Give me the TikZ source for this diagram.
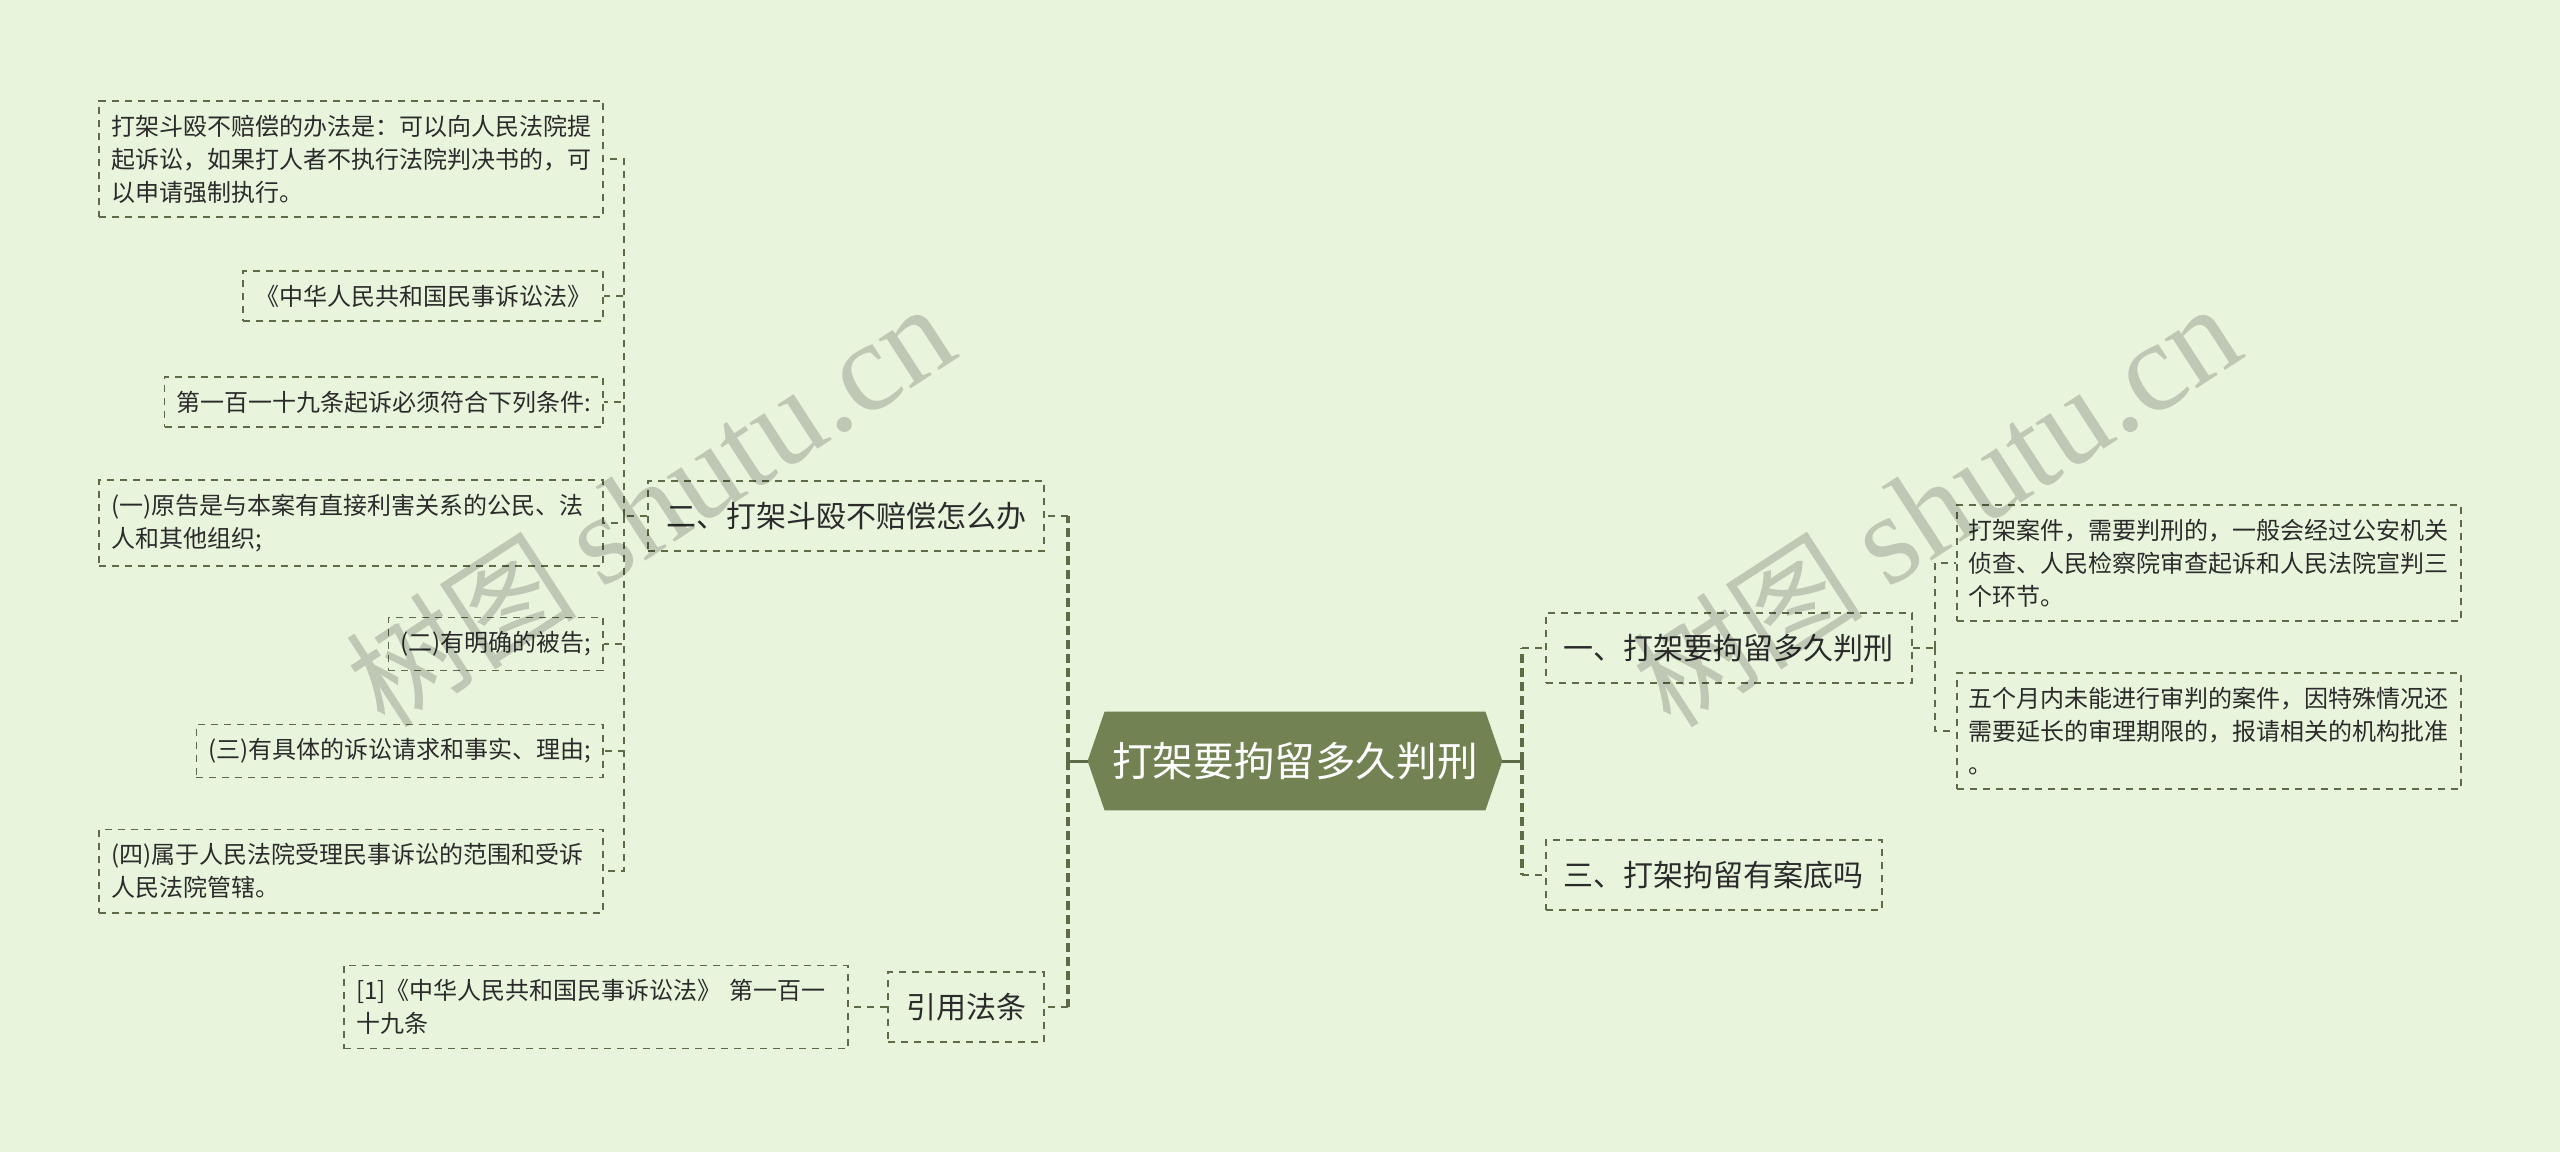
\documentclass[tikz,border=0pt]{standalone}
\usepackage{fontspec}
\setmainfont{Noto Sans CJK SC}
\newfontfamily\wmlatin{Liberation Serif}
\usepackage{tikz}
\usetikzlibrary{backgrounds}
\definecolor{bgcol}{HTML}{E8F5DC}
\definecolor{linecol}{HTML}{5E6B47}
\definecolor{rootcol}{HTML}{738252}
\definecolor{txtcol}{HTML}{2B2B2B}
\tikzset{
  rootbox/.style={text=white, font=\fontsize{20.3}{24}\selectfont,
    minimum width=190pt, minimum height=49pt, inner sep=0pt},
  branch/.style={draw=linecol, line width=0.8pt, dash pattern=on 3.5pt off 3pt,
    text=txtcol, font=\fontsize{15}{18}\selectfont, inner xsep=9pt, inner ysep=8pt,
    minimum height=35pt},
  leaf/.style={draw=linecol, line width=0.8pt, dash pattern=on 3.5pt off 3pt,
    text=txtcol, font=\fontsize{12}{16.5}\selectfont, inner xsep=6pt, inner ysep=7pt,
    align=left},
  leafwide/.style={leaf, text width=240pt},
  link/.style={draw=linecol, line width=0.8pt, dash pattern=on 3.5pt off 3pt},
  trunk/.style={draw=linecol, line width=2pt, dash pattern=on 4.5pt off 2.5pt},
  stem/.style={draw=linecol, line width=1.5pt},
  wmark/.style={text=black, text opacity=0.18, font=\fontsize{58}{60}\selectfont,
    inner sep=0pt}
}

\begin{document}
\begin{tikzpicture}[x=0.5pt, y=-0.5pt]
  % background ---------------------------------------------------
  \begin{scope}[on background layer]
    \fill[bgcol] (0,0) rectangle (2560,1152);
  \end{scope}
  % root ---------------------------------------------------------
  \node[rootbox] (root) at (1295,761) {打架要拘留多久判刑};
  \coordinate (rw) at ([xshift=-8.5pt]root.west);
  \coordinate (re) at ([xshift=8.5pt]root.east);
  \begin{scope}[on background layer]
    \fill[rootcol] (root.north west) -- (root.north east) -- (re)
      -- (root.south east) -- (root.south west) -- (rw) -- cycle;
  \end{scope}
  % main branches ------------------------------------------------
  \node[branch, anchor=east] (br2) at (1045,516) {二、打架斗殴不赔偿怎么办};
  \node[branch, anchor=east] (cite) at (1045,1007) {引用法条};
  \node[branch, anchor=west] (br1) at (1545,648) {一、打架要拘留多久判刑};
  \node[branch, anchor=west] (br3) at (1545,875) {三、打架拘留有案底吗};
  % leaves of branch two -----------------------------------------
  \node[leafwide, anchor=east] (c1) at (604,159) {打架斗殴不赔偿的办法是：可以向人民法院提\\起诉讼，如果打人者不执行法院判决书的，可\\以申请强制执行。};
  \node[leaf, anchor=east] (c2) at (604,296) {《中华人民共和国民事诉讼法》};
  \node[leaf, anchor=east] (c3) at (604,402) {第一百一十九条起诉必须符合下列条件:};
  \node[leafwide, anchor=east] (c4) at (604,523) {(一)原告是与本案有直接利害关系的公民、法\\人和其他组织;};
  \node[leaf, anchor=east] (c5) at (604,644) {(二)有明确的被告;};
  \node[leaf, anchor=east] (c6) at (604,751) {(三)有具体的诉讼请求和事实、理由;};
  \node[leafwide, anchor=east] (c7) at (604,871) {(四)属于人民法院受理民事诉讼的范围和受诉\\人民法院管辖。};
  % leaf of the citation -----------------------------------------
  \node[leafwide, anchor=east] (law) at (849,1007) {[1]《中华人民共和国民事诉讼法》 第一百一\\十九条};
  % leaves of branch one -----------------------------------------
  \node[leafwide, anchor=west] (r1) at (1956,563) {打架案件，需要判刑的，一般会经过公安机关\\侦查、人民检察院审查起诉和人民法院宣判三\\个环节。};
  \node[leafwide, anchor=west] (r2) at (1956,731) {五个月内未能进行审判的案件，因特殊情况还\\需要延长的审理期限的，报请相关的机构批准\\。};
  % connectors ---------------------------------------------------
  \coordinate (lj) at (1068,761);
  \coordinate (rj) at (1522,761);
  \coordinate (bj) at (624,516);
  \coordinate (oj) at (1935,648);
  \draw[stem] (rw) -- (lj);
  \draw[stem] (re) -- (rj);
  \draw[trunk] (lj) -- (lj |- br2.east);
  \draw[trunk] (lj) -- (lj |- cite.east);
  \draw[trunk] (rj) -- (rj |- br1.west);
  \draw[trunk] (rj) -- (rj |- br3.west);
  \draw[link] (lj |- br2.east) -- (br2.east);
  \draw[link] (lj |- cite.east) -- (cite.east);
  \draw[link] (rj |- br1.west) -- (br1.west);
  \draw[link] (rj |- br3.west) -- (br3.west);
  \draw[link] (br2.west) -- (bj);
  \foreach \c in {c1,c2,c3,c4,c5,c6,c7}
    \draw[link] (bj) |- (\c.east);
  \draw[link] (cite.west) -- (law.east);
  \draw[link] (br1.east) -- (oj);
  \foreach \c in {r1,r2}
    \draw[link] (oj) |- (\c.west);
  % watermarks ---------------------------------------------------
  \node[wmark, rotate=33] (wm1) at (650,506) {树图 {\wmlatin\fontsize{64}{66}\selectfont shutu.cn}};
  \node[wmark, rotate=33] (wm2) at (1936,506) {树图 {\wmlatin\fontsize{64}{66}\selectfont shutu.cn}};
\end{tikzpicture}
\end{document}
